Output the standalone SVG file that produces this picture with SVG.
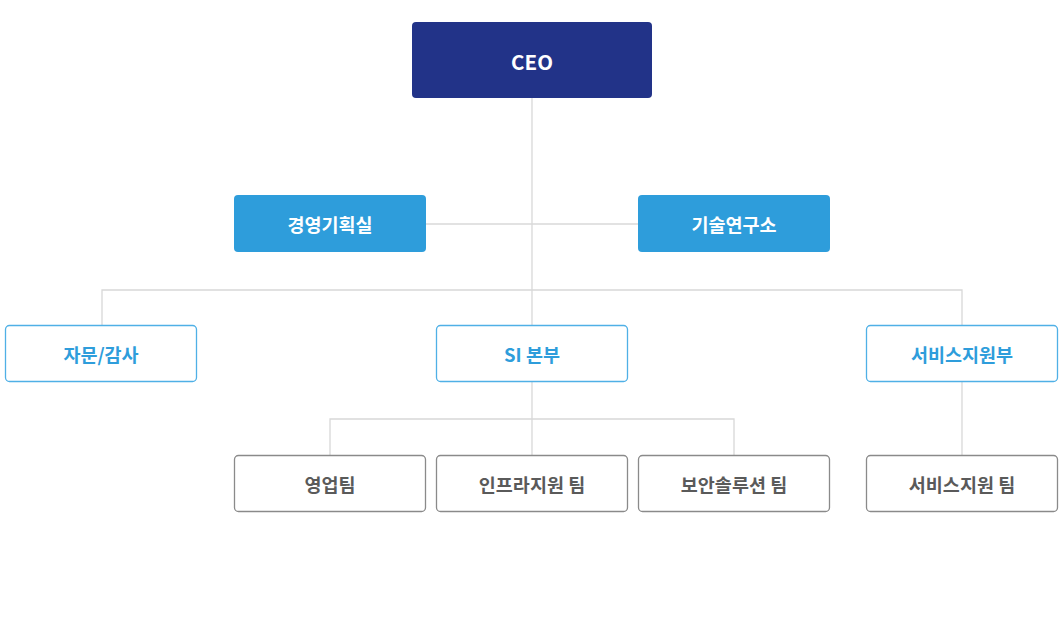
<svg xmlns="http://www.w3.org/2000/svg" width="1063" height="627" viewBox="0 0 1063 627">
<style>
text{font-family:"Noto Sans CJK KR","Noto Sans",sans-serif;font-weight:700;font-size:18.5px;text-anchor:middle;dominant-baseline:central}
.ceo rect{fill:#223388}
.ceo text{fill:#fff;font-size:20.5px}
.staff rect{fill:#2e9ddb}
.staff text{fill:#fff}
.dept rect{fill:#fff;stroke:#4fb0e6;stroke-width:1.3}
.dept text{fill:#2e9ddb}
.team rect{fill:#fff;stroke:#8a8a8a;stroke-width:1.3}
.team text{fill:#5a5a5a}
.conn{stroke:#d8d8d8;stroke-width:1.3;fill:none}
</style>
<rect width="1063" height="627" fill="#fff"/>
<g id="connectors" class="conn">
<path d="M532 98V325"/>
<path d="M426 224H638"/>
<path d="M102 325V290H962V325"/>
<path d="M532 382V455"/>
<path d="M330 455V419H734V455"/>
<path d="M962 382V455"/>
</g>
<g id="ceo" class="ceo"><rect x="412" y="22" width="240" height="76" rx="4"/><text x="532" y="61">CEO</text></g>
<g id="planning" class="staff"><rect x="234" y="195" width="192" height="57" rx="4"/><text x="330" y="224">경영기획실</text></g>
<g id="research" class="staff"><rect x="638" y="195" width="192" height="57" rx="4"/><text x="734" y="224">기술연구소</text></g>
<g id="audit" class="dept"><rect x="5.5" y="325.5" width="191" height="56" rx="4"/><text x="101" y="354">자문/감사</text></g>
<g id="si" class="dept"><rect x="436.5" y="325.5" width="191" height="56" rx="4"/><text x="532" y="354">SI 본부</text></g>
<g id="service" class="dept"><rect x="866.5" y="325.5" width="191" height="56" rx="4"/><text x="962" y="354">서비스지원부</text></g>
<g id="sales" class="team"><rect x="234.5" y="455.5" width="191" height="56" rx="4"/><text x="330" y="484">영업팀</text></g>
<g id="infra" class="team"><rect x="436.5" y="455.5" width="191" height="56" rx="4"/><text x="532" y="484">인프라지원 팀</text></g>
<g id="security" class="team"><rect x="638.5" y="455.5" width="191" height="56" rx="4"/><text x="734" y="484">보안솔루션 팀</text></g>
<g id="serviceteam" class="team"><rect x="866.5" y="455.5" width="191" height="56" rx="4"/><text x="962" y="484">서비스지원 팀</text></g>
</svg>
